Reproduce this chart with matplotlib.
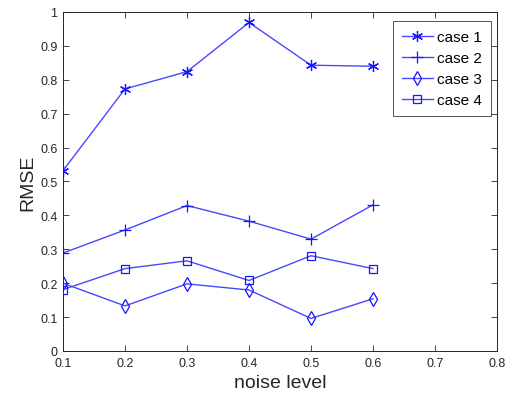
import matplotlib.pyplot as plt

plt.rcParams['font.family'] = ['Liberation Sans', 'DejaVu Sans']

# noise levels and RMSE of each case
noise = [0.1, 0.2, 0.3, 0.4, 0.5, 0.6]
case1 = [0.532, 0.773, 0.824, 0.969, 0.843, 0.840]
case2 = [0.289, 0.357, 0.429, 0.383, 0.330, 0.431]
case3 = [0.200, 0.133, 0.198, 0.180, 0.096, 0.154]
case4 = [0.181, 0.243, 0.266, 0.208, 0.281, 0.243]
labels = ['case 1', 'case 2', 'case 3', 'case 4']
markers = [(6, 2, 0), '+', 'd', 's']
msizes = [8, 8, 7, 5.5]

fig = plt.figure(figsize=(5.13, 4.02), dpi=100)
ax = fig.add_axes([0.1228, 0.1244, 0.846, 0.8433])

for y, lab, m, ms in zip([case1, case2, case3, case4], labels, markers, msizes):
    ax.plot(noise, y, color='#4848ff', lw=1.0, marker=m, markersize=ms,
            markerfacecolor='none', markeredgecolor='#1515ff', markeredgewidth=0.9,
            label=lab)

ax.set_xlim(0.1, 0.8)
ax.set_ylim(0, 1)
ax.set_xticks([0.1, 0.2, 0.3, 0.4, 0.5, 0.6, 0.7, 0.8])
ax.set_yticks([0, 0.1, 0.2, 0.3, 0.4, 0.5, 0.6, 0.7, 0.8, 0.9, 1])
ax.set_xticklabels(['0.1', '0.2', '0.3', '0.4', '0.5', '0.6', '0.7', '0.8'])
ax.set_yticklabels(['0', '0.1', '0.2', '0.3', '0.4', '0.5', '0.6', '0.7', '0.8', '0.9', '1'])
ax.tick_params(direction='in', top=True, right=True, length=4, width=0.6,
               labelsize=9, colors='#262626', pad=4)
for s in ax.spines.values():
    s.set_linewidth(0.7)
    s.set_color('#262626')

ax.set_xlabel('noise level', fontsize=14, color='#262626', labelpad=4)
ax.set_ylabel('RMSE', fontsize=14, color='#262626', labelpad=3)

leg = ax.legend(loc='upper right', bbox_to_anchor=(0.987, 0.973), fontsize=11,
                frameon=True, fancybox=False, handlelength=2.0, handletextpad=0.3,
                borderpad=0.6, labelspacing=0.45, borderaxespad=0)
leg.get_frame().set_edgecolor('#262626')
leg.get_frame().set_linewidth(0.7)

plt.savefig('out.png', dpi=100)
